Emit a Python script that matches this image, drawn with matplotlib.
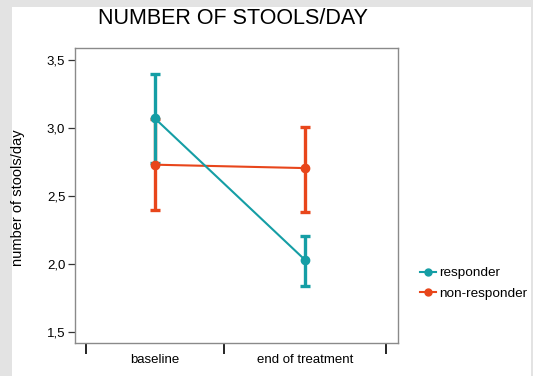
import matplotlib.pyplot as plt
from matplotlib.patches import Rectangle
from matplotlib.lines import Line2D

plt.rcParams['font.family'] = ['Liberation Sans', 'DejaVu Sans']

# group means with upper / lower error limits
timepoints = ["baseline", "end of treatment"]
resp_mean = [3.07, 2.03]
resp_hi = [3.40, 2.205]
resp_lo = [2.74, 1.84]
nonresp_mean = [2.73, 2.705]
nonresp_hi = [3.065, 3.01]
nonresp_lo = [2.395, 2.383]

teal = "#159ea5"
orange = "#e8461b"

fig = plt.figure(figsize=(5.33, 3.76), dpi=100, facecolor="#e3e3e3")
fig.patches.append(Rectangle((12 / 533, 0), (531 - 12) / 533, (376 - 7) / 376,
                             transform=fig.transFigure, facecolor="white",
                             edgecolor="none", zorder=-5))

ax = fig.add_axes([75 / 533, 33 / 376, (398 - 75) / 533, (343 - 48) / 376])
ax.set_zorder(2)
ax.patch.set_alpha(0)
x = [0, 1]


def draw(mean, lo, hi, color, zbar, zline):
    err = [[m - l for m, l in zip(mean, lo)], [h - m for m, h in zip(mean, hi)]]
    ax.errorbar(x, mean, yerr=err, fmt="none", ecolor=color, elinewidth=2.4,
                capsize=3.8, capthick=2.4, zorder=zbar)
    ax.plot(x, mean, color=color, lw=1.5, marker="o", ms=6, zorder=zline)


# error bars: teal over orange; orange means over the teal bars
draw(nonresp_mean, nonresp_lo, nonresp_hi, orange, 2, 4)
draw(resp_mean, resp_lo, resp_hi, teal, 3, 5)

ax.set_xlim(-0.533, 1.62)
ax.set_ylim(1.419, 3.588)

ax.set_yticks([1.5, 2.0, 2.5, 3.0, 3.5])
ax.set_yticklabels(["1,5", "2,0", "2,5", "3,0", "3,5"])
ax.tick_params(axis="y", length=5, width=0.9, color="#333333", labelsize=9.5, pad=2)

ax.set_xticks([-0.46, 0.46, 1.54])
ax.set_xticklabels([])
ax.set_xticks(x, minor=True)
ax.set_xticklabels(timepoints, minor=True)
ax.tick_params(axis="x", which="major", length=8, width=1.2, color="black")
ax.tick_params(axis="x", which="minor", length=0, labelsize=9.5, pad=8)

for s in ax.spines.values():
    s.set_color("#8a8a8a")
    s.set_linewidth(1.0)

fig.text(18 / 533, 1 - 198 / 376, "number of stools/day", rotation=90,
         ha="center", va="center", fontsize=10.5)
fig.text(233 / 533, 1 - 19 / 376, "NUMBER OF STOOLS/DAY", ha="center",
         va="center", fontsize=15.5)

handles = [Line2D([], [], color=teal, lw=1.5, marker="o", ms=5),
           Line2D([], [], color=orange, lw=1.5, marker="o", ms=5)]
fig.legend(handles, ["responder", "non-responder"], loc="upper left",
           bbox_to_anchor=(420 / 533, 1 - 267 / 376), frameon=False,
           borderpad=0, borderaxespad=0,
           fontsize=9.7, handlelength=1.2, handletextpad=0.25, labelspacing=0.6)

fig.savefig("out.png", dpi=100, facecolor=fig.get_facecolor())
